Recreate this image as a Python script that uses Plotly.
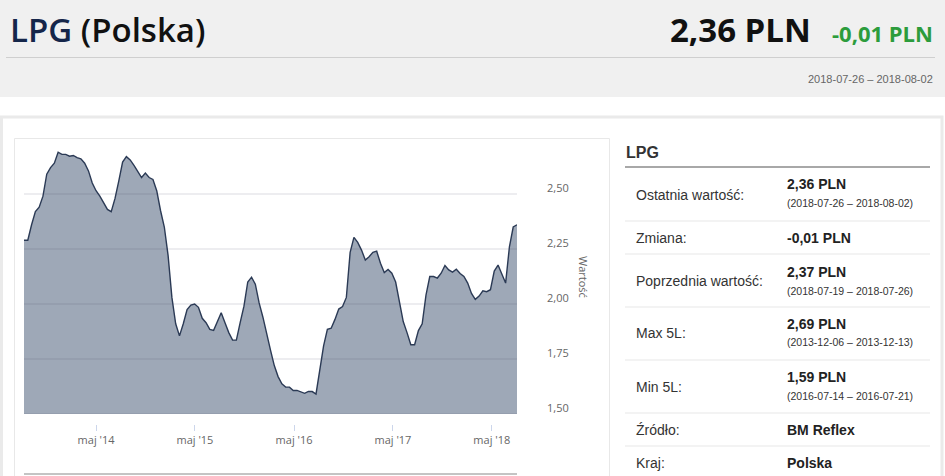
import plotly.graph_objects as go
import pandas as pd

W, H = 945, 476

# LPG price in Poland (PLN), read every second week from the chart
dates = pd.date_range('2013-08-08', '2018-08-02', freq='14D')
prices = [
    2.29, 2.29, 2.36, 2.42, 2.44, 2.49, 2.59, 2.62, 2.64, 2.69,
    2.68, 2.68, 2.672, 2.675, 2.665, 2.66, 2.64, 2.605, 2.55, 2.515,
    2.49, 2.46, 2.43, 2.42, 2.48, 2.56, 2.645, 2.67, 2.655, 2.63,
    2.605, 2.575, 2.595, 2.575, 2.566, 2.515, 2.425, 2.35, 2.22, 2.03,
    1.91, 1.855, 1.91, 1.975, 1.995, 2.00, 1.985, 1.935, 1.915, 1.885,
    1.88, 1.92, 1.96, 1.915, 1.87, 1.836, 1.836, 1.915, 1.99, 2.10,
    2.122, 2.09, 2.005, 1.94, 1.86, 1.79, 1.72, 1.67, 1.637, 1.623,
    1.622, 1.607, 1.607, 1.602, 1.594, 1.603, 1.602, 1.591, 1.71, 1.81,
    1.885, 1.89, 1.93, 1.977, 1.988, 2.03, 2.235, 2.303, 2.28, 2.245,
    2.20, 2.215, 2.235, 2.24, 2.185, 2.143, 2.157, 2.14, 2.10, 2.005,
    1.92, 1.87, 1.815, 1.815, 1.879, 1.91, 2.04, 2.125, 2.125, 2.118,
    2.14, 2.175, 2.155, 2.145, 2.158, 2.139, 2.125, 2.095, 2.048, 2.021,
    2.036, 2.06, 2.056, 2.065, 2.15, 2.177, 2.135, 2.095, 2.26, 2.35, 2.36,
]

x_ticks = ['2014-05-01', '2015-05-01', '2016-05-01', '2017-05-01', '2018-05-01']
x_labels = ["maj '14", "maj '15", "maj '16", "maj '17", "maj '18"]
y_ticks = [1.50, 1.75, 2.00, 2.25, 2.50]
y_labels = ['1,50', '1,75', '2,00', '2,25', '2,50']

# side table
row_labels = ['Ostatnia wartość:', 'Zmiana:', 'Poprzednia wartość:', 'Max 5L:',
              'Min 5L:', 'Źródło:', 'Kraj:']
row_values = ['2,36 PLN', '-0,01 PLN', '2,37 PLN', '2,69 PLN', '1,59 PLN',
              'BM Reflex', 'Polska']
row_periods = ['(2018-07-26 – 2018-08-02)', '', '(2018-07-19 – 2018-07-26)',
               '(2013-12-06 – 2013-12-13)', '(2016-07-14 – 2016-07-21)', '', '']


def px(x):
    return x / W


def py(y):
    return 1 - y / H


def note(x, y, text, size, color, family='Liberation Sans', anchor='left',
         weight='normal', **kw):
    return dict(x=px(x), y=py(y), xref='paper', yref='paper', xanchor=anchor,
                yanchor='middle', showarrow=False, text=text,
                font=dict(family=family, size=size, color=color, weight=weight), **kw)


fig = go.Figure()
fig.add_trace(go.Scatter(x=dates, y=prices, mode='lines', fill='tozeroy',
                         line=dict(color='#2b3a55', width=1.4),
                         fillcolor='#9ea8b7', hoverinfo='x+y', showlegend=False))

shapes = []
# grey header band and its rule
shapes.append(dict(type='rect', xref='paper', yref='paper', x0=0, x1=1,
                   y0=py(97), y1=1, fillcolor='#f0f0f0', line_width=0, layer='below'))
shapes.append(dict(type='line', xref='paper', yref='paper', x0=px(6), x1=px(935),
                   y0=py(57.5), y1=py(57.5), line=dict(color='#cfcfcf', width=1)))
# outer box
shapes.append(dict(type='rect', xref='paper', yref='paper', x0=px(1.5), x1=px(942),
                   y0=py(482), y1=py(117), line=dict(color='#eaeaea', width=3),
                   layer='below'))
# chart box
shapes.append(dict(type='rect', xref='paper', yref='paper', x0=px(14.5), x1=px(609.5),
                   y0=py(490), y1=py(138.5), line=dict(color='#e8e8e8', width=1),
                   layer='below'))
# grid lines drawn over the area
for v in y_ticks:
    shapes.append(dict(type='line', xref='x domain', yref='y', x0=0, x1=1, y0=v, y1=v,
                       line=dict(color='rgba(60,70,90,0.13)', width=1.6), layer='above'))
# line under the chart
shapes.append(dict(type='line', xref='paper', yref='paper', x0=px(24), x1=px(517),
                   y0=py(474), y1=py(474), line=dict(color='#c4c4c4', width=2)))
# side table rules
shapes.append(dict(type='line', xref='paper', yref='paper', x0=px(625), x1=px(930),
                   y0=py(167), y1=py(167), line=dict(color='#a8a8a8', width=2)))
for yy in [221, 254, 307, 360, 413, 446]:
    shapes.append(dict(type='line', xref='paper', yref='paper', x0=px(625), x1=px(930),
                       y0=py(yy), y1=py(yy), line=dict(color='#efefef', width=1.5)))

ann = []
ann.append(note(8, 29, "<span style='color:#15264a'>LPG</span> (Polska)", 33, '#111111',
                family='Open Sans', weight=600))
ann.append(note(813, 29, '2,36 PLN', 33, '#111111', family='Open Sans',
                anchor='right', weight='bold'))
ann.append(note(935, 33, '-0,01 PLN', 22, '#2c9c3c', family='Open Sans',
                anchor='right', weight='bold'))
ann.append(note(935, 79, '2018-07-26 – 2018-08-02', 11, '#666666', anchor='right'))
ann.append(note(584, 277, 'Wartość', 11, '#666666', family='Open Sans', anchor='center',
                textangle=90))
ann.append(note(624, 152, '<b>LPG</b>', 16, '#333333'))

label_y = [195, 238, 281, 333, 387, 430, 463]
value_y = [184, 238, 272, 324, 377, 430, 463]
period_y = [202.5, 0, 291, 342, 396, 0, 0]
for lab, val, per, ly, vy, pyy in zip(row_labels, row_values, row_periods,
                                      label_y, value_y, period_y):
    ann.append(note(634, ly, lab, 14, '#333333'))
    ann.append(note(785, vy, '<b>' + val + '</b>', 14, '#222222'))
    if per:
        ann.append(note(785, pyy, per, 10.5, '#333333'))

fig.update_layout(
    width=W, height=H, autosize=False,
    margin=dict(l=0, r=0, t=0, b=0, autoexpand=False),
    paper_bgcolor='white', plot_bgcolor='white',
    shapes=shapes, annotations=ann,
    xaxis=dict(domain=[px(24), px(517)], range=[dates[0], dates[-1]],
               anchor='free', position=py(424), automargin=False,
               tickvals=x_ticks, ticktext=x_labels, ticks='outside', ticklen=6,
               tickcolor='#ccd6eb', showgrid=False, showline=False, zeroline=False,
               tickfont=dict(family='Open Sans', size=11, color='#666666')),
    yaxis=dict(domain=[py(414), py(139)], range=[1.5, 2.75], side='right',
               automargin=False,
               tickvals=y_ticks, ticktext=y_labels, showgrid=False, zeroline=False,
               showline=False, ticks='', ticklabelstandoff=29, ticklabelshift=-6,
               tickfont=dict(family='Open Sans', size=11, color='#666666')),
)

fig.write_html('out.html', config={'displayModeBar': False},
               post_script="document.body.style.margin='0';document.body.style.overflow='hidden';")
